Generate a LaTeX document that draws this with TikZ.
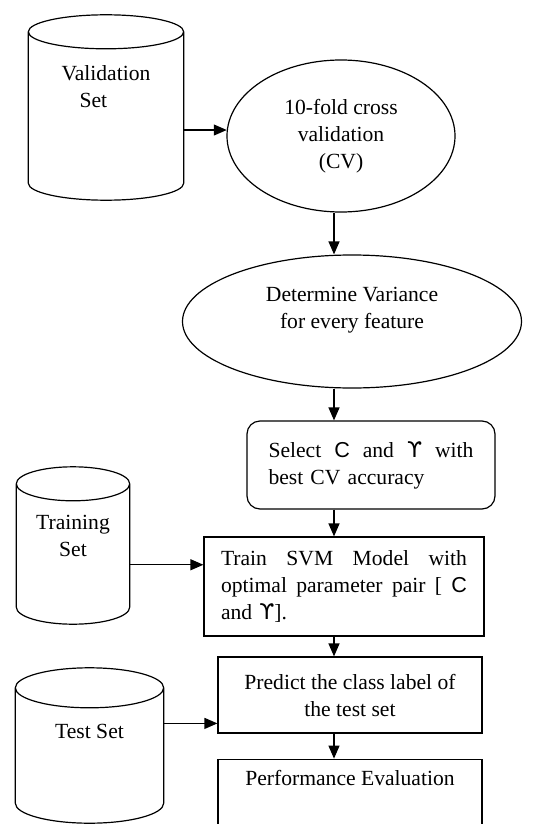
\documentclass[tikz,border=0pt]{standalone}
\usepackage{fontspec}
\setmainfont{Liberation Serif}
\newfontfamily\sansfont{Liberation Sans}
\newfontfamily\grkfont{DejaVu Sans}
\newcommand{\cpar}{{\sansfont C}}
\newcommand{\gpar}{{\grkfont ϒ}}
\usetikzlibrary{positioning, shapes.geometric, arrows.meta, calc}
\tikzset{outline/.style={draw, line width=1.2pt},
block/.style={outline, align=center},
dataset/.style={rectangle, inner sep=0pt},
oval/.style={outline, ellipse, align=center, inner sep=0pt},
line/.style={line width=1.2pt, -{Triangle[length=13pt, width=11pt]}}
}
% cylinder round a dataset node: #1 node name, #2 cap radius (pt)
\newcommand{\dbcyl}[2]{%
  \draw[line width=1.2pt] let \p1=(#1.north west), \p2=(#1.south east), \n1={(\x2-\x1)/2} in
    (\x1,{\y1-#2pt}) -- (\x1,{\y2+#2pt})
    arc[start angle=180, end angle=360, x radius=\n1, y radius=#2pt]
    -- (\x2,{\y1-#2pt})
    arc[start angle=0, end angle=360, x radius=\n1, y radius=#2pt];}

\begin{document}
\begin{tikzpicture}[x=1pt, y=-1pt, font=\fontsize{21.6pt}{27pt}\selectfont]
\useasboundingbox (0,0) rectangle (543,824);
\clip (0,0) rectangle (543,824);
\coordinate (spine) at (334,0);

\node[dataset, minimum width=155pt, minimum height=185pt, label={[align=left, yshift=21pt]center:Validation\\\hspace*{18pt}Set}] (val) at (106,107.5) {};
\node[oval, minimum width=228pt, minimum height=152pt] (cv) at (341,136) {10-fold cross\\validation\\(CV)};
\node[oval, minimum width=339pt, minimum height=133pt, label={[align=center, yshift=11.5pt]center:Determine Variance\\for every feature}] (dv) at (352,321.5) {};
\node[block, rounded corners=13pt, minimum width=248pt, minimum height=88pt, text width=205pt, align=left] (sel) at (371,465) {Select\hfill\cpar\hfill and\hfill\gpar\hfill with\\best CV accuracy};

\node[dataset, minimum width=113pt, minimum height=157pt, label={[align=center, yshift=10pt]center:Training\\Set}] (trnset) at (73,545.5) {};
\node[block, minimum width=280pt, minimum height=99pt, text width=246pt, align=left] (train) at (344,586.5) {Train\hfill SVM\hfill Model\hfill with\\optimal\hfill parameter\hfill pair\hfill [\hfill\cpar\\and \gpar].};

\node[dataset, minimum width=148pt, minimum height=155pt, label={[yshift=14.5pt]center:Test Set}] (tstset) at (89.5,745.5) {};
\node[block, minimum width=264pt, minimum height=76pt] (pred) at (350,695) {Predict the class label of\\the test set};
\node[block, below=25pt of pred, minimum width=264pt, minimum height=100pt, label={[anchor=north, yshift=-8pt]north:Performance Evaluation}] (perf) {};

\dbcyl{val}{17}
\dbcyl{trnset}{17}
\dbcyl{tstset}{20}

\coordinate (trnin) at ($(train.north west)!0.283!(train.south west)$);
\coordinate (tstin) at ($(pred.north west)!0.868!(pred.south west)$);

\draw[line] (val.east |- cv.177) -- (cv.177);
\draw[line] (cv.south -| spine) -- (dv.north -| spine);
\draw[line] (dv.south -| spine) -- (sel.north -| spine);
\draw[line] (sel.south -| spine) -- (train.north -| spine);
\draw[line] (trnset.east |- trnin) -- (trnin);
\draw[line] (train.south -| spine) -- (pred.north -| spine);
\draw[line] (tstset.east |- tstin) -- (tstin);
\draw[line] (pred.south -| spine) -- (perf.north -| spine);
\end{tikzpicture}
\end{document}
